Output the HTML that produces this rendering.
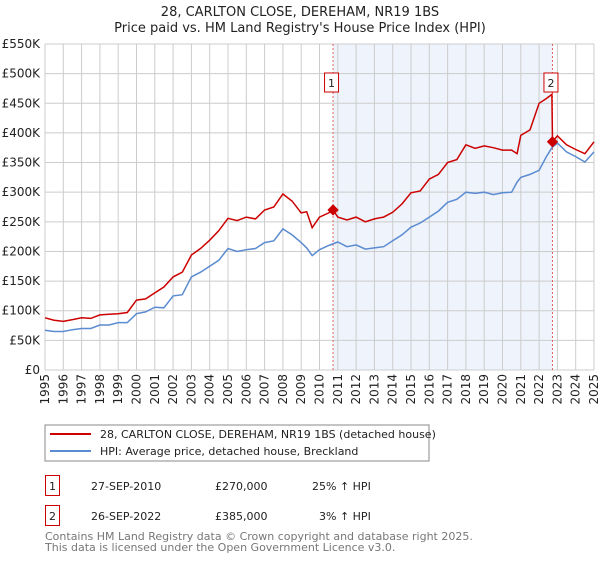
<!DOCTYPE html>
<html><head><meta charset="utf-8"><style>
body{margin:0;background:#fff;font-family:"DejaVu Sans","Liberation Sans",sans-serif;}
svg text{font-family:"DejaVu Sans","Liberation Sans",sans-serif;}
</style></head><body>
<svg id="chart" width="600" height="560" viewBox="0 0 600 560">
<text x="300" y="16" text-anchor="middle" font-size="13" fill="#222">28, CARLTON CLOSE, DEREHAM, NR19 1BS</text>
<text x="300" y="32" text-anchor="middle" font-size="13" fill="#222">Price paid vs. HM Land Registry's House Price Index (HPI)</text>
<g id="plot"></g>
<g>
<rect x="45" y="425" width="384" height="36" fill="#fff" stroke="#888"/>
<line x1="50" y1="434" x2="91" y2="434" stroke="#cc0000" stroke-width="2"/>
<text x="100" y="438" font-size="11" fill="#222">28, CARLTON CLOSE, DEREHAM, NR19 1BS (detached house)</text>
<line x1="50" y1="451" x2="91" y2="451" stroke="#5b8bd0" stroke-width="2"/>
<text x="100" y="455" font-size="11" fill="#222">HPI: Average price, detached house, Breckland</text>
</g>
<g font-size="11" fill="#222">
<rect x="45.5" y="475.5" width="14" height="20" fill="#fff" stroke="#cc0000"/>
<text x="52.5" y="490" text-anchor="middle">1</text>
<text x="91" y="490">27-SEP-2010</text>
<text x="215" y="490">£270,000</text>
<text x="312" y="490">25% ↑ HPI</text>
<rect x="45.5" y="505.5" width="14" height="20" fill="#fff" stroke="#cc0000"/>
<text x="52.5" y="520" text-anchor="middle">2</text>
<text x="91" y="520">26-SEP-2022</text>
<text x="215" y="520">£385,000</text>
<text x="319" y="520">3% ↑ HPI</text>
</g>
<text x="45" y="540" font-size="11" fill="#777">Contains HM Land Registry data © Crown copyright and database right 2025.</text>
<text x="45" y="551" font-size="11" fill="#777">This data is licensed under the Open Government Licence v3.0.</text>
</svg>
<script>
const hpiYears=[1995,1995.5,1996,1996.5,1997,1997.5,1998,1998.5,1999,1999.5,2000,2000.5,2001,2001.5,2002,2002.5,2003,2003.5,2004,2004.5,2005,2005.5,2006,2006.5,2007,2007.5,2008,2008.5,2009,2009.3,2009.6,2010,2010.5,2011,2011.5,2012,2012.5,2013,2013.5,2014,2014.5,2015,2015.5,2016,2016.5,2017,2017.5,2018,2018.5,2019,2019.5,2020,2020.5,2020.8,2021,2021.5,2022,2022.4,2022.7,2023,2023.5,2024,2024.5,2025];
const hpiValues=[67,65,65,68,70,70,76,76,80,80,95,98,106,105,125,127,157,165,175,185,205,200,203,205,215,218,238,228,215,206,193,203,210,216,208,211,204,206,208,218,228,241,248,258,268,283,288,300,298,300,296,299,300,317,325,330,337,360,375,383,368,360,351,368];
const propYears=[1995,1995.5,1996,1996.5,1997,1997.5,1998,1998.5,1999,1999.5,2000,2000.5,2001,2001.5,2002,2002.5,2003,2003.5,2004,2004.5,2005,2005.5,2006,2006.5,2007,2007.5,2008,2008.5,2009,2009.3,2009.6,2010,2010.5,2010.74,2011,2011.5,2012,2012.5,2013,2013.5,2014,2014.5,2015,2015.5,2016,2016.5,2017,2017.5,2018,2018.5,2019,2019.5,2020,2020.5,2020.8,2021,2021.5,2022,2022.4,2022.7,2022.73,2023,2023.5,2024,2024.5,2025];
const propValues=[88,84,82,85,88,87,93,94,95,97,118,120,130,140,157,165,194,205,219,235,256,252,258,255,270,275,297,285,265,267,240,258,265,270,258,253,258,250,255,258,266,280,299,302,322,330,350,355,380,374,378,375,371,371,365,396,405,450,458,465,385,395,380,372,365,385];
const sales=[{n:'1',year:2010.74,value:270},{n:'2',year:2022.73,value:385}];
const yTicks=[0,50,100,150,200,250,300,350,400,450,500,550];
const xTicks=[1995,1996,1997,1998,1999,2000,2001,2002,2003,2004,2005,2006,2007,2008,2009,2010,2011,2012,2013,2014,2015,2016,2017,2018,2019,2020,2021,2022,2023,2024,2025];

const L=45,R=594,T=44,B=370;
const x=y=>L+(y-1995)/(2025-1995)*(R-L);
const yv=v=>B-v/550*(B-T);
const NS='http://www.w3.org/2000/svg';
const g=document.getElementById('plot');
function mk(t,a){const e=document.createElementNS(NS,t);for(const k in a)e.setAttribute(k,a[k]);g.appendChild(e);return e;}
let e=mk('rect',{x:L,y:T,width:R-L,height:B-T,fill:'#fff'});


e=mk('rect',{x:x(sales[0].year),y:T,width:x(sales[1].year)-x(sales[0].year),height:B-T,fill:'#eef3fc'});


xTicks.forEach(t=>{
 let l=mk('line',{x1:x(t),x2:x(t),y1:T,y2:B,stroke:'#ccc','stroke-width':1});
 
 
 let tx=mk('text',{x:0,y:0,'font-size':12,fill:'#222','text-anchor':'end',transform:`translate(${x(t)+4},${B+4}) rotate(-90)`});
 tx.textContent=t;
 
 
});
yTicks.forEach(t=>{
 let l=mk('line',{x1:L,x2:R,y1:yv(t),y2:yv(t),stroke:'#ccc','stroke-width':1});
 
 
 let tx=mk('text',{x:L-5,y:yv(t)+4,'font-size':12,fill:'#222','text-anchor':'end'});
 tx.textContent=t===0?'£0':'£'+t+'K';
 
 
});
sales.forEach(s=>{
 let l=mk('line',{x1:x(s.year),x2:x(s.year),y1:T,y2:B,stroke:'#e06060','stroke-width':1,'stroke-dasharray':'2,2'});
 
 
});
const pts=(xs,vs)=>xs.map((a,i)=>x(a).toFixed(1)+','+yv(vs[i]).toFixed(1)).join(' ');
e=mk('polyline',{points:pts(hpiYears,hpiValues),fill:'none',stroke:'#5b8bd0','stroke-width':1.5});


e=mk('polyline',{points:pts(propYears,propValues),fill:'none',stroke:'#cc0000','stroke-width':1.5});


sales.forEach(s=>{
 const cx=x(s.year),cy=yv(s.value);
 let p=mk('rect',{x:cx-4,y:cy-4,width:8,height:8,fill:'#cc0000',transform:`rotate(45 ${cx} ${cy})`});
 
 
 let b=mk('rect',{x:cx-8.5,y:73,width:14,height:19,fill:'#fff',stroke:'#cc0000'});
 
 
 let tx=mk('text',{x:cx-1.5,y:87,'font-size':11,fill:'#222','text-anchor':'middle'});
 tx.textContent=s.n;
 
 
});
</script>
</body></html>
